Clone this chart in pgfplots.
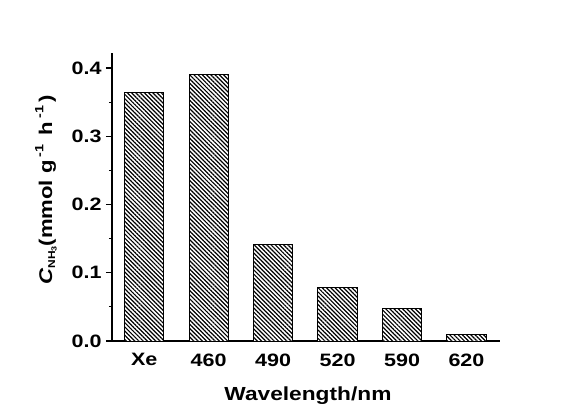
\documentclass[border=0pt]{standalone}
\usepackage{fontspec}
\setmainfont{Liberation Sans}[FakeStretch=1.2]
\usepackage{pgfplots}
\pgfplotsset{compat=1.18}
\usetikzlibrary{patterns.meta}
\begin{document}
\begin{tikzpicture}
\useasboundingbox (-112bp,-64bp) rectangle (457bp,341bp);
\begin{axis}[
  at={(0,0)}, anchor=south west,
  scale only axis,
  width=388bp, height=288bp,
  xmin=-0.5, xmax=5.52,
  ymin=0, ymax=0.422,
  axis x line*=bottom, axis y line*=left,
  axis line style={line width=1.6bp, -},
  xtick=data,
  xticklabels={Xe,460,490,520,590,620},
  x tick style={draw=none},
  ytick={0,0.1,0.2,0.3,0.4},
  minor y tick num=1,
  tick align=outside,
  major tick length=6bp, minor tick length=3bp,
  y tick style={line width=1.2bp, black},
  /pgf/number format/assume math mode=true,
  yticklabel style={/pgf/number format/fixed, /pgf/number format/fixed zerofill, /pgf/number format/precision=1, xshift=-1bp},
  tick label style={font=\bfseries\fontsize{18}{18}\selectfont},
  xticklabel style={yshift=-3bp},
  xlabel={Wavelength/nm},
  xlabel style={font=\bfseries\fontsize{19}{19}\selectfont, at={(axis description cs:0.505,-0.19)}, anchor=center},
  ylabel={\textit{C}\raisebox{-0.3ex}{\fontsize{10}{10}\selectfont NH\raisebox{-0.3ex}{\fontsize{7.5}{7.5}\selectfont 3}}(mmol g\,\raisebox{0.9ex}{\fontsize{12}{12}\selectfont -1}\, h\,\raisebox{0.9ex}{\fontsize{12}{12}\selectfont -1}\,)},
  ylabel style={font=\bfseries\fontsize{18.5}{18.5}\selectfont, at={(axis description cs:-0.17,0.524)}, anchor=center},
  clip=false,
]
\addplot[ybar, bar width=39.3bp, draw=black, line width=1bp, fill=white,
  postaction={pattern={Lines[angle=-45, distance=3pt, line width=1.2pt]}}]
  coordinates {(0,0.3647) (1,0.3905) (2,0.1408) (3,0.0782) (4,0.0469) (5,0.0088)};
\end{axis}
\end{tikzpicture}
\end{document}
